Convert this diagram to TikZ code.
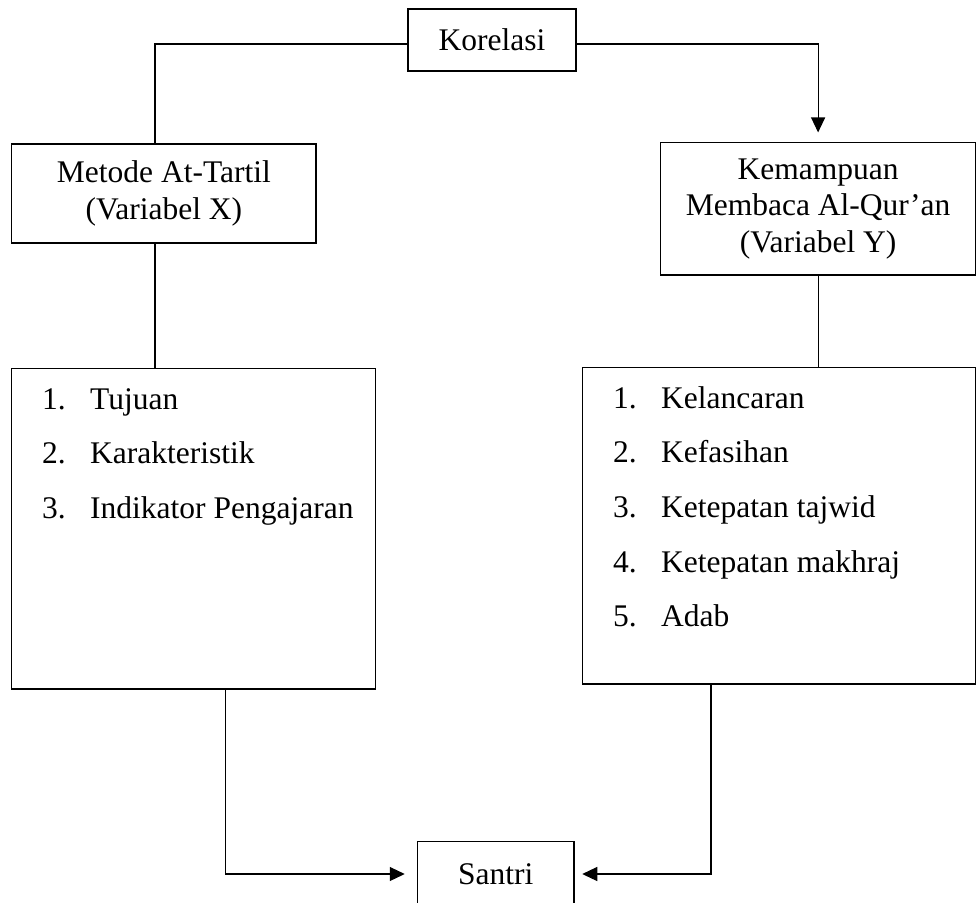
\documentclass[tikz,border=0pt]{standalone}
\usepackage{fontspec}
\setmainfont{Liberation Serif}
\usetikzlibrary{arrows.meta}
\begin{document}
\begin{tikzpicture}[x=1pt,y=-1pt,
  box/.style={draw, line width=1.1pt, rectangle, inner sep=0pt, align=center, font=\fontsize{31.5}{36.5}\selectfont},
  link/.style={line width=1.1pt},
  arr/.style={link, -{Triangle[length=15pt,width=14pt]}},
  item/.style={anchor=base west, inner sep=0pt, font=\fontsize{31.5}{36.5}\selectfont}]
\useasboundingbox (0,0) rectangle (976,902);
% boxes
\node[box, minimum width=168pt, minimum height=62pt] (kor) at (492,40) {Korelasi};
\node[box, minimum width=304.3pt, minimum height=99pt] (met) at (163.85,193.5) {Metode At-Tartil\\(Variabel X)};
\node[box, minimum width=314.8pt, minimum height=132.3pt] (kem) at (818.1,208.85) {Kemampuan\\Membaca Al-Qur’an\\(Variabel Y)};
\node[box, minimum width=364pt, minimum height=320.3pt] (lst) at (193.7,528.85) {};
\node[box, minimum width=392.8pt, minimum height=316.3pt] (rl) at (779.1,525.85) {};
\node[box, minimum width=156.7pt, minimum height=64.3pt] (san) at (495.65,874) {Santri};
% left list
\node[item] (ln1) at (42,409) {1.};
\node[item] (lt1) at (90,409) {Tujuan};
\node[item] (ln2) at (42,463.6) {2.};
\node[item] (lt2) at (90,463.6) {Karakteristik};
\node[item] (ln3) at (42,518.2) {3.};
\node[item] (lt3) at (90,518.2) {Indikator Pengajaran};
% right list
\node[item] (rn1) at (613,408) {1.};
\node[item] (rt1) at (661,408) {Kelancaran};
\node[item] (rn2) at (613,462.7) {2.};
\node[item] (rt2) at (661,462.7) {Kefasihan};
\node[item] (rn3) at (613,517.4) {3.};
\node[item] (rt3) at (661,517.4) {Ketepatan tajwid};
\node[item] (rn4) at (613,572.1) {4.};
\node[item] (rt4) at (661,572.1) {Ketepatan makhraj};
\node[item] (rn5) at (613,626.8) {5.};
\node[item] (rt5) at (661,626.8) {Adab};
% connectors
\coordinate (lx) at (155,0);
\coordinate (lb) at (225.3,0);
\coordinate (rb) at (711,0);
\draw[link] ([yshift=-4pt]kor.west) -| (lx |- met.north);
\draw[arr, shorten >=9.7pt] ([yshift=-4pt]kor.east) -| (kem.north);
\draw[link] (lx |- met.south) -- (lx |- lst.north);
\draw[link] (kem.south) -- (kem.south |- rl.north);
\draw[arr, shorten >=12pt] (lb |- lst.south) |- (san.west);
\draw[arr, shorten >=7.7pt] (rb |- rl.south) |- (san.east);
\end{tikzpicture}
\end{document}
